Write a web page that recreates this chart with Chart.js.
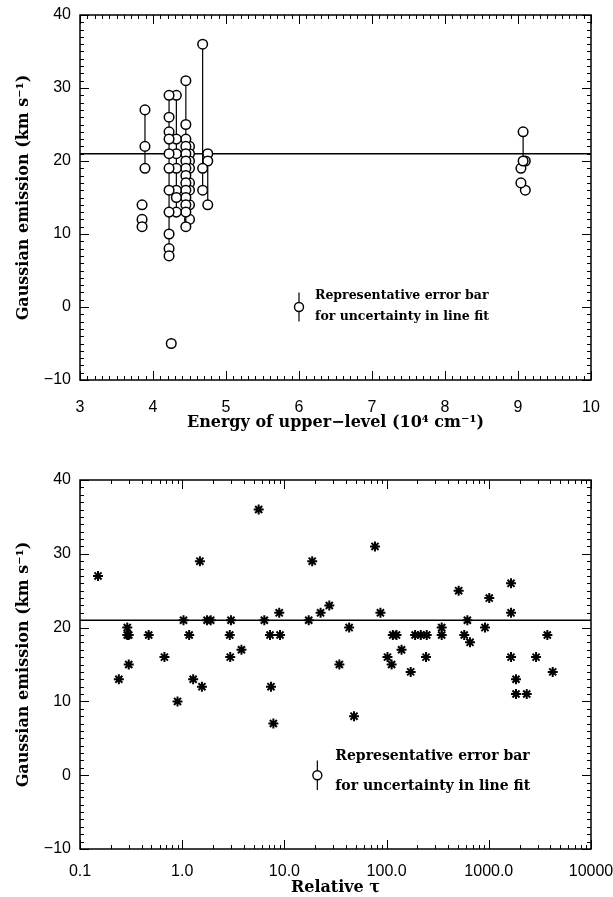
<!DOCTYPE html>
<html><head><meta charset="utf-8">
<script src="https://cdn.jsdelivr.net/npm/chart.js@4/dist/chart.umd.min.js"></script>
<style>
html,body{margin:0;padding:0;background:#fff;}
#wrap{position:relative;width:613px;height:897px;background:#fff;}
canvas{position:absolute;left:0;}
#c1{top:0}
#c2{top:450px}
</style></head><body>
<div id="wrap"><canvas id="c1" width="613" height="450"></canvas><canvas id="c2" width="613" height="447"></canvas></div>
<script>
// ---------- data ----------
const yTickValues = [-10, 0, 10, 20, 30, 40];
const energyTickValues = [3, 4, 5, 6, 7, 8, 9, 10];
const tauTickValues = [0.1, 1, 10, 100, 1000, 10000];
const tauTickLabels = ['0.1', '1.0', '10.0', '100.0', '1000.0', '10000'];
const meanWidth = 21;

// top panel: lines grouped by upper-level energy (10^4 cm^-1)
const groupEnergy = [3.89, 3.85, 4.22, 4.25, 4.32, 4.45, 4.50, 4.68, 4.75, 9.07, 9.04, 9.10];
const groupLinked = [true, false, true, false, true, true, true, true, true, true, false, false];
const groupWidths = [
  [27, 22, 19],
  [14, 12, 11],
  [29, 26, 24, 23, 21, 19, 16, 13, 10, 8, 7],
  [-5],
  [29, 23, 21, 19, 16, 15, 13],
  [31, 25, 23, 22, 21, 20, 19, 18, 17, 16, 15, 14, 13, 11],
  [22, 21, 20, 19, 17, 16, 14, 12],
  [36, 19, 16],
  [21, 20, 14],
  [24, 20],
  [19, 17],
  [16, 20]
];

// bottom panel: relative optical depth vs width
const tau = [0.15, 0.24, 0.29, 0.29, 0.30, 0.30, 0.47, 0.67, 0.9, 1.03, 1.17, 1.28, 1.49, 1.56, 1.75, 1.9,
  2.92, 2.95, 3.0, 3.8, 5.6, 6.36, 7.23, 7.39, 7.8, 8.9, 9.06, 17.3, 18.7, 22.6, 27.5, 34.5, 43, 48, 77, 87,
  102, 112, 115, 125, 140, 172, 190, 216, 243, 247, 346, 346, 507, 575, 617, 655, 918, 1010, 1650, 1650,
  1650, 1845, 1845, 2350, 2900, 3740, 4220];
const tauWidth = [27, 13, 20, 19, 19, 15, 19, 16, 10, 21, 19, 13, 29, 12, 21, 21,
  19, 16, 21, 17, 36, 21, 19, 12, 7, 22, 19, 21, 29, 22, 23, 15, 20, 8, 31, 22,
  16, 15, 19, 19, 17, 14, 19, 19, 16, 19, 20, 19, 25, 19, 21, 18, 20, 24, 26, 22,
  16, 13, 11, 11, 16, 19, 14];

// representative error bar
const errEnergy = 6.0;
const errTau = 21;
const errValue = 0;
const errHalf = 2;
const errText = ['Representative error bar', 'for uncertainty in line fit'];

// ---------- styling ----------
const tickFont = {family: 'Liberation Sans', size: 16};
const titleFont = {family: 'DejaVu Serif', size: 16, weight: 'bold'};

function minorTicksLinear(min, max, step, majorEvery) {
  const out = [];
  const n = Math.round((max - min) / step);
  for (let i = 0; i <= n; i++) out.push([min + i * step, i % majorEvery === 0]);
  return out;
}
function minorTicksLog() {
  const out = [];
  for (let d = -1; d <= 3; d++) for (let k = 1; k <= 9; k++) out.push([k * Math.pow(10, d), k === 1]);
  out.push([10000, true]);
  return out;
}

const framePlugin = {
  id: 'frame',
  afterDatasetsDraw(chart, args, opts) {
    const {ctx, chartArea: a, scales: {x, y}} = chart;
    ctx.save();
    ctx.strokeStyle = '#000';
    ctx.lineWidth = 1.5;
    ctx.strokeRect(a.left, a.top, a.right - a.left, a.bottom - a.top);
    ctx.lineWidth = 1;
    ctx.beginPath();
    for (const [v, major] of minorTicksLinear(-10, 40, 1, 10)) {
      const p = Math.round(y.getPixelForValue(v)) + 0.5;
      const L = major ? 9 : 4;
      ctx.moveTo(a.left, p); ctx.lineTo(a.left + L, p);
      ctx.moveTo(a.right, p); ctx.lineTo(a.right - L, p);
    }
    for (const [v, major] of opts.xTicks) {
      const p = Math.round(x.getPixelForValue(v)) + 0.5;
      const L = major ? 9 : 4;
      ctx.moveTo(p, a.bottom); ctx.lineTo(p, a.bottom - L);
      ctx.moveTo(p, a.top); ctx.lineTo(p, a.top + L);
    }
    ctx.stroke();
    // annotation text next to the representative error bar
    const px = x.getPixelForValue(opts.errX) + opts.dx;
    const py = y.getPixelForValue(errValue);
    ctx.fillStyle = '#000';
    ctx.font = opts.font;
    ctx.textBaseline = 'middle';
    ctx.textAlign = 'left';
    ctx.fillText(errText[0], px, py + opts.dy1);
    ctx.fillText(errText[1], px, py + opts.dy2);
    ctx.restore();
  }
};

function yScale() {
  return {
    type: 'linear', min: -10, max: 40,
    afterBuildTicks: s => { s.ticks = yTickValues.map(v => ({value: v})); },
    grid: {display: false, drawTicks: false}, border: {display: false},
    ticks: {padding: 9, font: tickFont, color: '#000', callback: v => (v < 0 ? '\u2212' : '') + Math.abs(v)},
    title: {display: true, text: 'Gaussian emission (km s\u207B\u00B9)', font: titleFont, color: '#000', padding: {top: 14, bottom: 0}},
    afterFit: s => { s.width = 80; s.paddingTop = 0; s.paddingBottom = 0; }
  };
}

// ---------- top chart ----------
const topDatasets = [];
topDatasets.push({
  data: [{x: 3, y: meanWidth}, {x: 10, y: meanWidth}],
  showLine: true, borderColor: '#000', borderWidth: 1.5, pointRadius: 0, order: 10
});
groupEnergy.forEach((e, i) => {
  topDatasets.push({
    data: groupWidths[i].map(w => ({x: e, y: w})),
    showLine: groupLinked[i], borderColor: '#000', borderWidth: 1.2,
    pointStyle: 'circle', pointRadius: 4.8, pointBorderWidth: 1.5,
    pointBorderColor: '#000', pointBackgroundColor: '#fff', order: 1
  });
});
topDatasets.push({
  data: [{x: errEnergy, y: errValue - errHalf}, {x: errEnergy, y: errValue + errHalf}],
  showLine: true, borderColor: '#000', borderWidth: 1.2, pointRadius: 0, order: 2
});
topDatasets.push({
  data: [{x: errEnergy, y: errValue}],
  pointStyle: 'circle', pointRadius: 4.5, pointBorderWidth: 1.4,
  pointBorderColor: '#000', pointBackgroundColor: '#fff', order: 1
});

new Chart(document.getElementById('c1'), {
  type: 'scatter',
  data: {datasets: topDatasets},
  options: {
    responsive: false, animation: false, devicePixelRatio: 1,
    layout: {padding: {left: 0, right: 22, top: 15, bottom: 0}},
    plugins: {legend: {display: false}, tooltip: {enabled: false},
      frame: {xTicks: minorTicksLinear(3, 10, 0.1, 10), errX: errEnergy, dx: 16, dy1: -11, dy2: 10,
        font: 'bold 12.5px "DejaVu Serif"'}},
    scales: {
      x: {
        type: 'linear', min: 3, max: 10,
        afterBuildTicks: s => { s.ticks = energyTickValues.map(v => ({value: v})); },
        grid: {display: false, drawTicks: false}, border: {display: false},
        ticks: {padding: 18, font: tickFont, color: '#000', maxRotation: 0},
        title: {display: true, text: 'Energy of upper\u2212level (10\u2074 cm\u207B\u00B9)', font: titleFont, color: '#000', padding: {top: 0, bottom: 18}},
        afterFit: s => { s.height = 70; s.paddingLeft = 0; s.paddingRight = 0; }
      },
      y: yScale()
    }
  },
  plugins: [framePlugin]
});

// ---------- bottom chart ----------
const botDatasets = [];
botDatasets.push({
  data: [{x: 0.1, y: meanWidth}, {x: 10000, y: meanWidth}],
  showLine: true, borderColor: '#000', borderWidth: 1.5, pointRadius: 0, order: 10
});
botDatasets.push({
  data: tau.map((t, i) => ({x: t, y: tauWidth[i]})),
  pointStyle: 'star', pointRadius: 5, pointBorderWidth: 2, pointBorderColor: '#000', pointBackgroundColor: '#000', order: 1
});
botDatasets.push({
  data: [{x: errTau, y: errValue - errHalf}, {x: errTau, y: errValue + errHalf}],
  showLine: true, borderColor: '#000', borderWidth: 1.2, pointRadius: 0, order: 2
});
botDatasets.push({
  data: [{x: errTau, y: errValue}],
  pointStyle: 'circle', pointRadius: 4.5, pointBorderWidth: 1.4,
  pointBorderColor: '#000', pointBackgroundColor: '#fff', order: 1
});

new Chart(document.getElementById('c2'), {
  type: 'scatter',
  data: {datasets: botDatasets},
  options: {
    responsive: false, animation: false, devicePixelRatio: 1,
    layout: {padding: {left: 0, right: 22, top: 30, bottom: 0}},
    plugins: {legend: {display: false}, tooltip: {enabled: false},
      frame: {xTicks: minorTicksLog(), errX: errTau, dx: 18, dy1: -19, dy2: 11,
        font: 'bold 14px "DejaVu Serif"'}},
    scales: {
      x: {
        type: 'logarithmic', min: 0.1, max: 10000,
        afterBuildTicks: s => { s.ticks = tauTickValues.map(v => ({value: v})); },
        grid: {display: false, drawTicks: false}, border: {display: false},
        ticks: {padding: 13, font: tickFont, color: '#000', maxRotation: 0, autoSkip: false,
          callback: (v, i) => tauTickLabels[i]},
        title: {display: true, text: 'Relative \u03C4', font: titleFont, color: '#000', padding: {top: 0, bottom: 0}},
        afterFit: s => { s.height = 48; s.paddingLeft = 0; s.paddingRight = 0; }
      },
      y: yScale()
    }
  },
  plugins: [framePlugin]
});
</script>
</body></html>
